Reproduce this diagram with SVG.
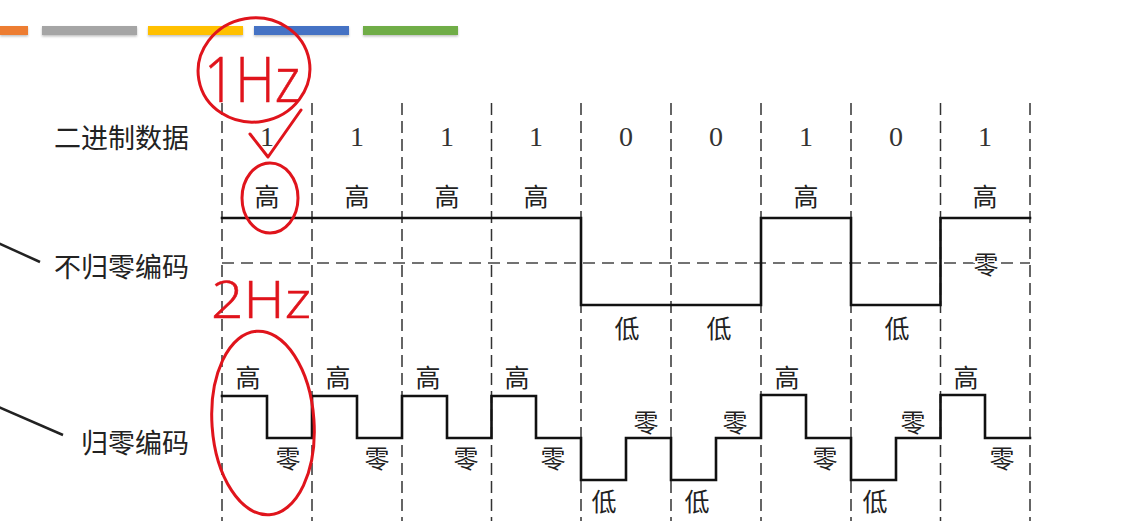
<svg xmlns="http://www.w3.org/2000/svg" width="1138" height="521" viewBox="0 0 1138 521">
  <defs>
    <filter id="sh" x="-5%" y="-50%" width="110%" height="200%">
      <feDropShadow dx="0" dy="1.5" stdDeviation="1" flood-color="#000" flood-opacity="0.25"/>
    </filter>
  </defs>
  <style>
    .grid { stroke: #333; stroke-width: 1.5; stroke-dasharray: 12 6; fill: none; }
    .hgrid { stroke: #444; stroke-width: 1.5; stroke-dasharray: 12 7; fill: none; }
    .wave { stroke: #111; stroke-width: 2.6; fill: none; stroke-linejoin: miter; stroke-linecap: square; }
    .lbl { font-family: "Noto Sans CJK SC", "Noto Sans CJK TC", sans-serif; font-size: 27px; fill: #222; dominant-baseline: central; }
    .cj { font-family: "Noto Sans CJK SC", "Noto Sans CJK TC", sans-serif; font-size: 25px; fill: #222; text-anchor: middle; dominant-baseline: central; }
    .dig { font-family: "Liberation Serif", serif; font-size: 28px; fill: #333; text-anchor: middle; }
    .pen { stroke: #E0141C; stroke-width: 3; fill: none; stroke-linecap: round; stroke-linejoin: round; }
    .hand { font-family: "Open Sans", "DejaVu Sans", sans-serif; font-weight: 300; fill: #E0141C; stroke: #E0141C; stroke-width: 0.6; }
  </style>
  <rect width="1138" height="521" fill="#fff"/>

  <g id="top-bars" filter="url(#sh)">
    <rect x="0" y="26" width="28" height="9" fill="#ED7D31"/>
    <rect x="42" y="26" width="95" height="9" fill="#A5A5A5"/>
    <rect x="148" y="26" width="95" height="9" fill="#FFC000"/>
    <rect x="254" y="26" width="95" height="9" fill="#4472C4"/>
    <rect x="363" y="26" width="95" height="9" fill="#70AD47"/>
  </g>

  <g id="grid">
    <path class="grid" d="M222,103V521 M312,103V521 M402,103V521 M491.5,103V521 M581,103V521 M671,103V521 M761,103V521 M851,103V521 M940.5,103V521 M1030,103V521"/>
  </g>

  <g id="labels">
    <text class="lbl" x="189" y="136" text-anchor="end">二进制数据</text>
    <text class="lbl" x="189" y="265" text-anchor="end">不归零编码</text>
    <text class="lbl" x="189" y="441" text-anchor="end">归零编码</text>
  </g>

  <g id="connectors">
    <line x1="-4" y1="242" x2="40" y2="262" stroke="#222" stroke-width="2.5"/>
    <line x1="-4" y1="406" x2="63" y2="435" stroke="#222" stroke-width="2.5"/>
  </g>

  <g id="bits">
    <text class="dig" x="267" y="146">1</text>
    <text class="dig" x="357" y="146">1</text>
    <text class="dig" x="447" y="146">1</text>
    <text class="dig" x="536" y="146">1</text>
    <text class="dig" x="626" y="146">0</text>
    <text class="dig" x="716" y="146">0</text>
    <text class="dig" x="806" y="146">1</text>
    <text class="dig" x="896" y="146">0</text>
    <text class="dig" x="985" y="146">1</text>
  </g>

  <g id="nrz">
    <path class="hgrid" d="M222,263H1030"/>
    <path class="wave" d="M222,218H581V305H761V218H851V305H940.5V218H1030"/>
    <text class="cj" x="267" y="195">高</text>
    <text class="cj" x="357" y="195">高</text>
    <text class="cj" x="447" y="195">高</text>
    <text class="cj" x="536" y="195">高</text>
    <text class="cj" x="806" y="195">高</text>
    <text class="cj" x="985" y="195">高</text>
    <text class="cj" x="627" y="327">低</text>
    <text class="cj" x="719" y="327">低</text>
    <text class="cj" x="897" y="327">低</text>
    <text class="cj" x="986" y="263" stroke="#fff" stroke-width="4" paint-order="stroke">零</text>
  </g>

  <g id="rz">
    <path class="wave" d="M222,396H267V438H312V396H357V438H402V396H447V438H491.5V396H536V438H581V480H626V438H671V480H716V438H761V395H806V438H851V480H896V438H940.5V395H985V438H1030"/>
    <text class="cj" x="248" y="376">高</text>
    <text class="cj" x="338" y="376">高</text>
    <text class="cj" x="428" y="376">高</text>
    <text class="cj" x="517" y="376">高</text>
    <text class="cj" x="787" y="376">高</text>
    <text class="cj" x="966" y="376">高</text>
    <text class="cj" x="288" y="457">零</text>
    <text class="cj" x="377" y="457">零</text>
    <text class="cj" x="466" y="457">零</text>
    <text class="cj" x="553" y="457">零</text>
    <text class="cj" x="825" y="457">零</text>
    <text class="cj" x="1002" y="457">零</text>
    <text class="cj" x="646" y="421">零</text>
    <text class="cj" x="735" y="421">零</text>
    <text class="cj" x="913" y="421">零</text>
    <text class="cj" x="604" y="500">低</text>
    <text class="cj" x="697" y="500">低</text>
    <text class="cj" x="875" y="500">低</text>
  </g>

  <g id="annotations">
    <ellipse class="pen" cx="254" cy="70" rx="56" ry="52" transform="rotate(-10 254 70)"/>
    <text class="hand" x="204" y="102" font-size="62" textLength="96" lengthAdjust="spacingAndGlyphs">1Hz</text>
    <path class="pen" d="M250,134 L268,157 L301,110"/>
    <ellipse class="pen" cx="270" cy="198" rx="28" ry="35"/>
    <text class="hand" x="211" y="318" font-size="52" textLength="100" lengthAdjust="spacingAndGlyphs">2Hz</text>
    <ellipse class="pen" cx="263" cy="423" rx="51" ry="92" transform="rotate(-4 263 423)"/>
  </g>
</svg>
